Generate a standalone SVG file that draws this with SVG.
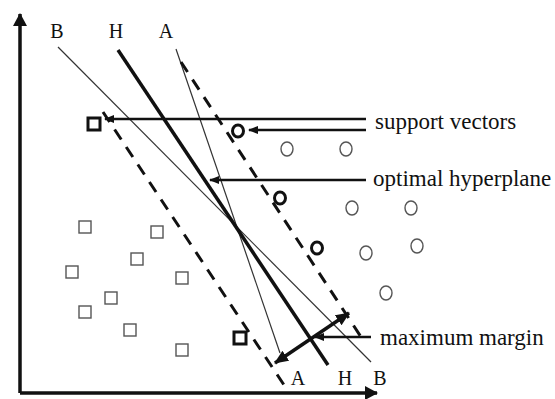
<svg xmlns="http://www.w3.org/2000/svg" width="555" height="399" viewBox="0 0 555 399">
<style>
.lbl{font-family:"Liberation Serif","Times New Roman",serif;font-size:23px;fill:#111}
.ax{font-family:"Liberation Serif","Times New Roman",serif;font-size:20px;fill:#111;text-anchor:middle}
.pt{fill:none;stroke:#555;stroke-width:1.4}
.sv{fill:none;stroke:#111;stroke-width:3}
.dash{stroke:#111;stroke-width:3;stroke-dasharray:12 9;fill:none}
.thin{stroke:#333;stroke-width:1.2;fill:none}
.thick{stroke:#111;stroke-width:3.5;fill:none}
.ptr{stroke:#111;stroke-width:2.5;fill:none}
</style>
<defs>
<marker id="ah" markerUnits="userSpaceOnUse" markerWidth="10" markerHeight="8" refX="9" refY="4" orient="auto"><path d="M0,0 L10,4 L0,8 Z" fill="#111"/></marker>
<marker id="big" markerUnits="userSpaceOnUse" markerWidth="14" markerHeight="12" refX="13" refY="6" orient="auto"><path d="M0,0 L14,6 L0,12 Z" fill="#111"/></marker>
<marker id="bigs" markerUnits="userSpaceOnUse" markerWidth="14" markerHeight="12" refX="1" refY="6" orient="auto"><path d="M14,0 L0,6 L14,12 Z" fill="#111"/></marker>
<marker id="axh" markerUnits="userSpaceOnUse" markerWidth="13" markerHeight="14" refX="12" refY="7" orient="auto"><path d="M0,0 L13,7 L0,14 Z" fill="#111"/></marker>
</defs>
<g id="axes">
<path d="M20,393 L20,14" stroke="#111" stroke-width="3.5" fill="none" marker-end="url(#axh)"/>
<path d="M20,393 L377,393" stroke="#111" stroke-width="3.5" fill="none" marker-end="url(#axh)"/>
</g>
<g id="lines">
<line id="lineB" class="thin" x1="58" y1="47" x2="371" y2="362"/>
<line id="lineA" class="thin" x1="176" y1="49" x2="280" y2="353"/>
<line id="lineH" class="thick" x1="118" y1="50" x2="328" y2="365"/>
<line id="marginRight" class="dash" x1="181" y1="62" x2="363" y2="340"/>
<line id="marginLeft" class="dash" x1="103" y1="112" x2="284" y2="385"/>
</g>
<g id="squares">
<rect class="pt" x="79" y="221" width="12" height="12"/>
<rect class="pt" x="151" y="226" width="12" height="12"/>
<rect class="pt" x="131" y="253" width="12" height="12"/>
<rect class="pt" x="66" y="266" width="12" height="12"/>
<rect class="pt" x="176" y="272" width="12" height="12"/>
<rect class="pt" x="105" y="292" width="12" height="12"/>
<rect class="pt" x="79" y="306" width="12" height="12"/>
<rect class="pt" x="124" y="324" width="12" height="12"/>
<rect class="pt" x="176" y="344" width="12" height="12"/>
</g>
<g id="circles">
<ellipse class="pt" cx="287" cy="149" rx="6" ry="7"/>
<ellipse class="pt" cx="346" cy="149" rx="6" ry="7"/>
<ellipse class="pt" cx="352" cy="208" rx="6" ry="7"/>
<ellipse class="pt" cx="411" cy="208" rx="6" ry="7"/>
<ellipse class="pt" cx="366" cy="253" rx="6" ry="7"/>
<ellipse class="pt" cx="417" cy="246" rx="6" ry="7"/>
<ellipse class="pt" cx="386" cy="293" rx="6" ry="7"/>
</g>
<g id="supportVectors">
<rect class="sv" x="88" y="118" width="12" height="12"/>
<rect class="sv" x="234" y="332" width="12" height="12"/>
<ellipse class="sv" cx="238" cy="131" rx="5.5" ry="6"/>
<ellipse class="sv" cx="280" cy="198" rx="5.5" ry="6"/>
<ellipse class="sv" cx="317" cy="248" rx="5.5" ry="6"/>
</g>
<g id="connectors">
<line class="ptr" x1="366" y1="119" x2="105" y2="119" marker-end="url(#ah)"/>
<line class="ptr" x1="366" y1="130" x2="249" y2="130" marker-end="url(#ah)"/>
<line class="ptr" x1="366" y1="180" x2="210" y2="180" marker-end="url(#ah)"/>
<line class="ptr" x1="371" y1="337" x2="315" y2="337" marker-end="url(#ah)"/>
<line stroke="#111" stroke-width="3.5" x1="275" y1="363" x2="349" y2="313" marker-start="url(#bigs)" marker-end="url(#big)"/>
</g>
<g id="label-B-top"><text class="ax" x="57" y="38">B</text></g>
<g id="label-H-top"><text class="ax" x="116" y="38">H</text></g>
<g id="label-A-top"><text class="ax" x="166" y="38">A</text></g>
<g id="label-A-bottom"><text class="ax" x="298" y="385">A</text></g>
<g id="label-H-bottom"><text class="ax" x="345" y="385">H</text></g>
<g id="label-B-bottom"><text class="ax" x="380" y="385">B</text></g>
<g id="label-support"><text class="lbl" x="375" y="129">support vectors</text></g>
<g id="label-optimal"><text class="lbl" x="373" y="186">optimal hyperplane</text></g>
<g id="label-margin"><text class="lbl" x="380" y="345">maximum margin</text></g>
</svg>
